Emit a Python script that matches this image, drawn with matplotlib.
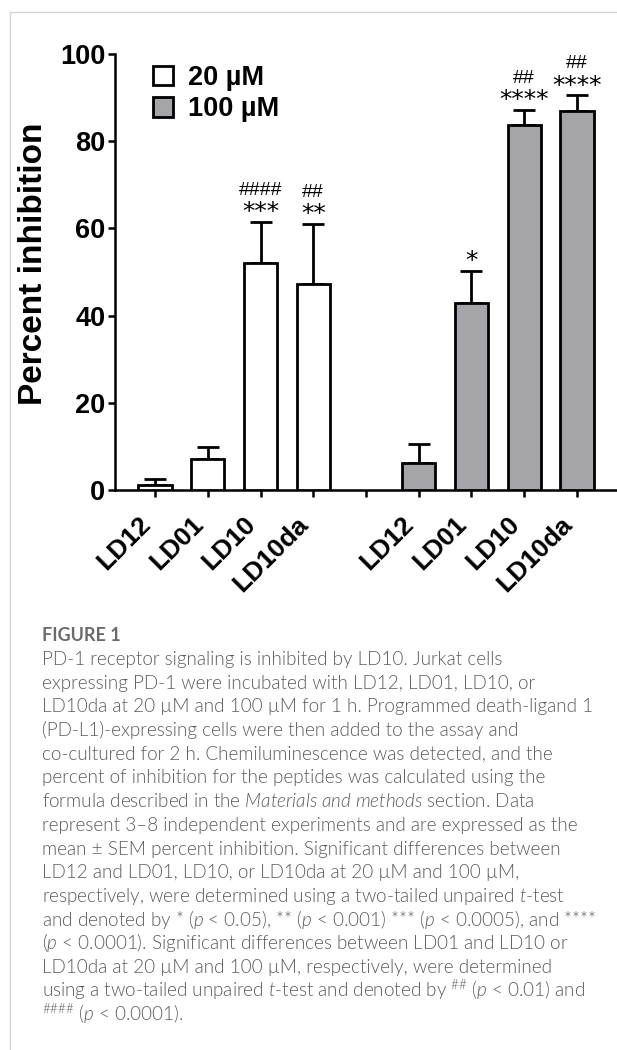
import matplotlib
matplotlib.use('Agg')
import matplotlib.pyplot as plt
import numpy as np
from matplotlib.lines import Line2D

# Dữ liệu
nhan_peptide = ['LD12', 'LD01', 'LD10', 'LD10da']
gia_tri_20 = [1.2, 7.1, 52.1, 47.3]
sai_so_20 = [1.3, 2.8, 9.4, 13.7]
gia_tri_100 = [6.2, 43.0, 83.8, 87.0]
sai_so_100 = [4.3, 7.2, 3.4, 3.5]
sao_20 = ['', '', '***', '**']
thang_20 = ['', '', '####', '##']
sao_100 = ['', '*', '****', '****']
thang_100 = ['', '', '##', '##']
chu_giai = ['20 \u00b5M', '100 \u00b5M']

tieu_de_hinh = 'FIGURE 1'
dong_chu_thich = [
    'PD-1 receptor signaling is inhibited by LD10. Jurkat cells',
    'expressing PD-1 were incubated with LD12, LD01, LD10, or',
    'LD10da at 20 \u00b5M and 100 \u00b5M for 1 h. Programmed death-ligand 1',
    '(PD-L1)-expressing cells were then added to the assay and',
    'co-cultured for 2 h. Chemiluminescence was detected, and the',
    'percent of inhibition for the peptides was calculated using the',
    r'formula described in the $\mathit{Materials\ and\ methods}$ section. Data',
    'represent 3\u20138 independent experiments and are expressed as the',
    'mean \u00b1 SEM percent inhibition. Significant differences between',
    'LD12 and LD01, LD10, or LD10da at 20 \u00b5M and 100 \u00b5M,',
    r'respectively, were determined using a two-tailed unpaired $\mathit{t}$-test',
    r'and denoted by * ($\mathit{p}$ < 0.05), ** ($\mathit{p}$ < 0.001) *** ($\mathit{p}$ < 0.0005), and ****',
    r'($\mathit{p}$ < 0.0001). Significant differences between LD01 and LD10 or',
    'LD10da at 20 \u00b5M and 100 \u00b5M, respectively, were determined',
    r'using a two-tailed unpaired $\mathit{t}$-test and denoted by ${}^{\#\#}$ ($\mathit{p}$ < 0.01) and',
    r'${}^{\#\#\#\#}$ ($\mathit{p}$ < 0.0001).',
]

plt.rcParams['font.family'] = ['Liberation Sans', 'DejaVu Sans']
plt.rcParams['mathtext.fontset'] = 'custom'
plt.rcParams['mathtext.rm'] = 'Lato:weight=300'
plt.rcParams['mathtext.it'] = 'Lato:italic:weight=300'

W, H = 617, 1050
fig = plt.figure(figsize=(W / 100, H / 100), dpi=100)
fig.patch.set_facecolor('white')

# khung viền xám nhạt
fig.add_artist(Line2D([9.5 / W, 9.5 / W], [0, 1 - 12 / H], color='#d6d6d6', lw=1))
fig.add_artist(Line2D([9.5 / W, 1], [1 - 12 / H, 1 - 12 / H], color='#d6d6d6', lw=1))

ax = fig.add_axes([115 / W, 1 - 490 / H, (W - 115) / W, 436 / H])

vi_tri_20 = np.arange(4)
vi_tri_100 = np.arange(5, 9)
do_rong = 0.63

cot_20 = ax.bar(vi_tri_20, gia_tri_20, do_rong, color='white', edgecolor='black', linewidth=2, zorder=3)
cot_100 = ax.bar(vi_tri_100, gia_tri_100, do_rong, color='#a4a4a9', edgecolor='black', linewidth=2, zorder=3)

ax.errorbar(vi_tri_20, gia_tri_20, yerr=[np.zeros(4), sai_so_20], fmt='none', ecolor='black',
            elinewidth=2, capsize=8, capthick=2, zorder=2)
ax.errorbar(vi_tri_100, gia_tri_100, yerr=[np.zeros(4), sai_so_100], fmt='none', ecolor='black',
            elinewidth=2, capsize=8, capthick=2, zorder=2)

# ký hiệu ý nghĩa thống kê
for vt, gt, ss, s, t in list(zip(vi_tri_20, gia_tri_20, sai_so_20, sao_20, thang_20)) + \
        list(zip(vi_tri_100, gia_tri_100, sai_so_100, sao_100, thang_100)):
    dinh = gt + ss
    if s:
        ax.annotate(s, (vt, dinh), xytext=(0, 2), textcoords='offset points', ha='center',
                    va='baseline', fontsize=18, family='DejaVu Sans')
    if t:
        ax.annotate(t, (vt, dinh), xytext=(0, 19.5), textcoords='offset points', ha='center',
                    va='baseline', fontsize=14, family='Liberation Sans')

ax.set_xlim(-0.76, 8.76)
ax.set_ylim(0, 100)
ax.set_yticks([0, 20, 40, 60, 80, 100])
ax.set_xticks(np.arange(9))
ax.set_xticklabels(nhan_peptide + [''] + nhan_peptide, rotation=45, ha='right')

for sp in ['top', 'right']:
    ax.spines[sp].set_visible(False)
for sp in ['left', 'bottom']:
    ax.spines[sp].set_linewidth(1.8)

ax.tick_params(axis='y', length=5, width=1.8, pad=2, labelsize=19.5)
ax.tick_params(axis='x', length=5, width=1.8, pad=11, labelsize=19)
for lb in ax.get_yticklabels() + ax.get_xticklabels():
    lb.set_fontweight('bold')

ax.set_ylabel('Percent inhibition', fontsize=24, fontweight='bold')
ax.yaxis.set_label_coords(-0.131, 0.518)

ax.legend([cot_20, cot_100], chu_giai, loc='upper left', bbox_to_anchor=(0.076, 0.975),
          frameon=False, borderpad=0, borderaxespad=0, handlelength=0.72, handleheight=0.75,
          handletextpad=0.55, labelspacing=0.2, prop={'weight': 'bold', 'size': 19.5})

# chú thích hình
fig.text(42 / W, 1 - 641 / H, tieu_de_hinh, fontsize=13, fontweight='bold', color='#6a6a6a',
         family='Lato', va='baseline')
for i, dong in enumerate(dong_chu_thich):
    fig.text(42 / W, 1 - (665 + i * 23.7) / H, dong, fontsize=13.6, color='#5a5a5a',
             family='Lato', fontweight=300, va='baseline')

fig.savefig('out.png', dpi=100, facecolor='white')
